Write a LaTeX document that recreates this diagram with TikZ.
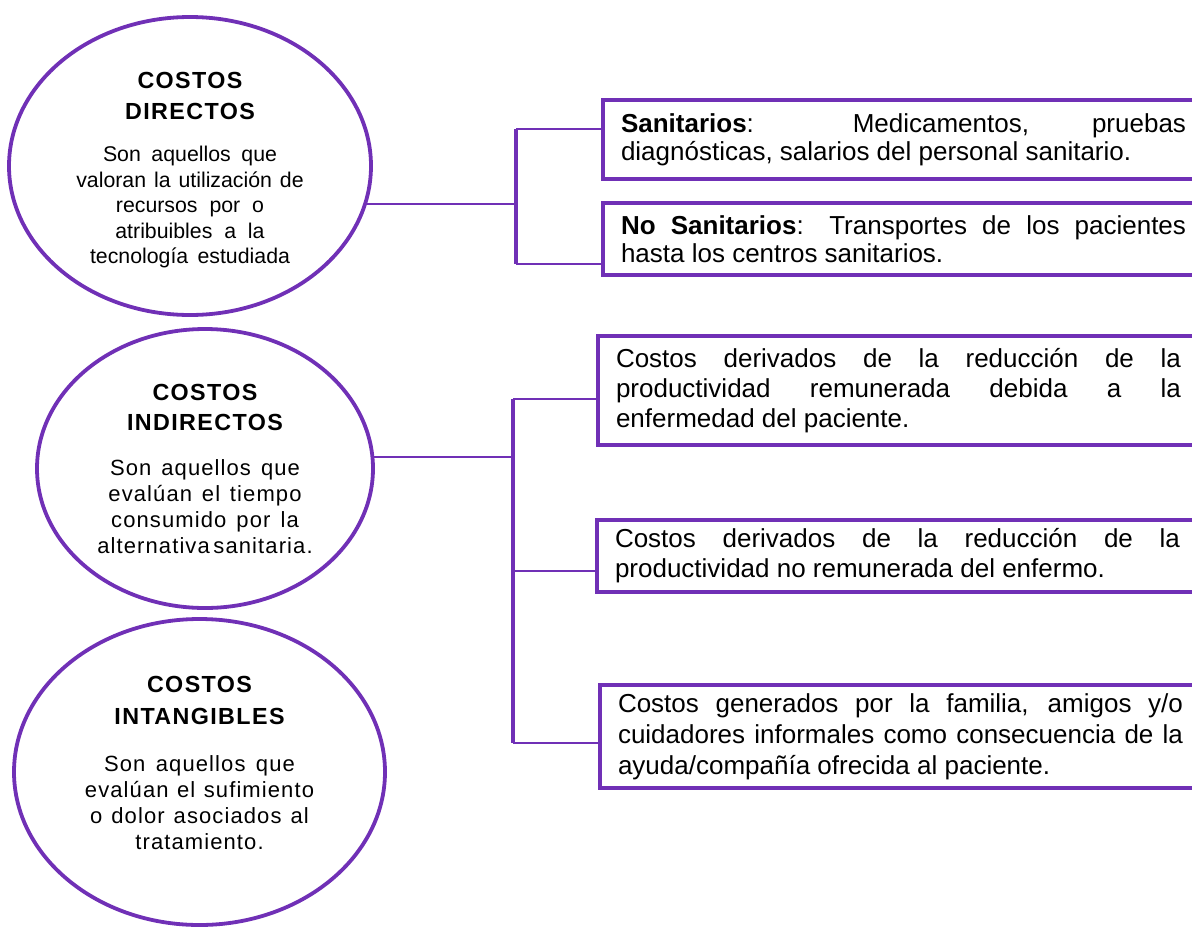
\documentclass[tikz,border=0pt]{standalone}
\usepackage{fontspec}
\setmainfont{Liberation Sans}
\newfontfamily\headfont[LetterSpace=6]{Liberation Sans}
\newfontfamily\widefont[LetterSpace=5]{Liberation Sans}
\usetikzlibrary{shapes}
\definecolor{costpurple}{RGB}{112,48,182}
\hyphenpenalty=10000
\exhyphenpenalty=10000
\tolerance=10000

\begin{document}
\begin{tikzpicture}[x=1pt,y=-1pt]

	\tikzstyle{cost}=[ellipse,draw=costpurple,line width=3.8pt,inner sep=0pt,align=center]
	\tikzstyle{item}=[rectangle,draw=costpurple,line width=4pt,outer sep=0pt,inner xsep=18pt,inner ysep=0pt,text width=565pt,align=justify,anchor=north west,font=\fontsize{26}{30}\selectfont]
	\tikzstyle{trunk}=[draw=costpurple,line width=3.5pt]
	\tikzstyle{branch}=[draw=costpurple,line width=2pt]

	\useasboundingbox (0,0) rectangle (1192,927);
	\clip (0,0) rectangle (1192,927);

	\node [cost,minimum width=362pt,minimum height=298pt,text width=250pt] (dir) at (190,166)
		{{\headfont\bfseries\fontsize{23.3}{31}\selectfont\rule{0pt}{24pt}COSTOS\\DIRECTOS\par}
		\vspace{17pt}
		{\fontsize{21.3}{25.5}\selectfont\spaceskip=6.8pt plus 2pt minus 1pt Son aquellos que\\valoran la utilización de\\recursos por o\\atribuibles a la\\tecnología estudiada\par}};
	\node [cost,minimum width=336pt,minimum height=279pt,text width=230pt] (ind) at (205,468.5)
		{{\headfont\bfseries\fontsize{23.3}{30}\selectfont COSTOS\\INDIRECTOS\par}
		\vspace{19pt}
		{\widefont\fontsize{22}{26}\selectfont\spaceskip=8pt plus 2pt minus 1pt Son aquellos que\\evalúan el tiempo\\consumido por la\\alternativa\,sanitaria.\par}};
	\node [cost,minimum width=371pt,minimum height=306pt,text width=240pt] (intang) at (199.5,772)
		{{\headfont\bfseries\fontsize{23.3}{32}\selectfont COSTOS\\INTANGIBLES\par}
		\vspace{21pt}
		{\widefont\fontsize{22}{26}\selectfont\spaceskip=8pt plus 2pt minus 1pt Son aquellos que\\evalúan el sufimiento\\o dolor asociados al\\tratamiento.\rule[-18pt]{0pt}{0pt}\par}};

	\node [item,minimum height=79pt,font=\fontsize{26}{28}\selectfont] (san) at (603,100)
		{\textbf{Sanitarios}: Medicamentos, pruebas diagnósticas, salarios del personal sanitario.};
	\node [item,minimum height=72pt,font=\fontsize{26}{28}\selectfont] (nosan) at (603,203)
		{\textbf{No Sanitarios}: Transportes de los pacientes hasta los centros sanitarios.};
	\node [item,minimum height=109pt] (rem) at (598,336)
		{Costos derivados de la reducción de la productividad remunerada debida a la enfermedad del paciente.};
	\node [item,minimum height=72pt] (norem) at (597,520)
		{Costos derivados de la reducción de la productividad no remunerada del enfermo.};
	\node [item,minimum height=103pt,font=\fontsize{26}{31}\selectfont] (fam) at (600,685)
		{Costos generados por la familia, amigos y/o cuidadores informales como consecuencia de la ayuda/compañía ofrecida al paciente.};

	\coordinate (j1a) at (516,129);
	\coordinate (j1b) at (516,264);
	\draw [trunk] (j1a) -- (j1b);
	\draw [branch] (dir.-12) -- (dir.-12 -| j1a);
	\draw [branch] (j1a) -- (j1a -| san.west);
	\draw [branch] (j1b) -- (j1b -| nosan.west);

	\coordinate (j2a) at (513,399);
	\coordinate (j2b) at (513,571);
	\coordinate (j2c) at (513,743);
	\draw [trunk] (j2a) -- (j2c);
	\draw [branch] (ind.4) -- (ind.4 -| j2a);
	\draw [branch] (j2a) -- (j2a -| rem.west);
	\draw [branch] (j2b) -- (j2b -| norem.west);
	\draw [branch] (j2c) -- (j2c -| fam.west);
\end{tikzpicture}
\end{document}
